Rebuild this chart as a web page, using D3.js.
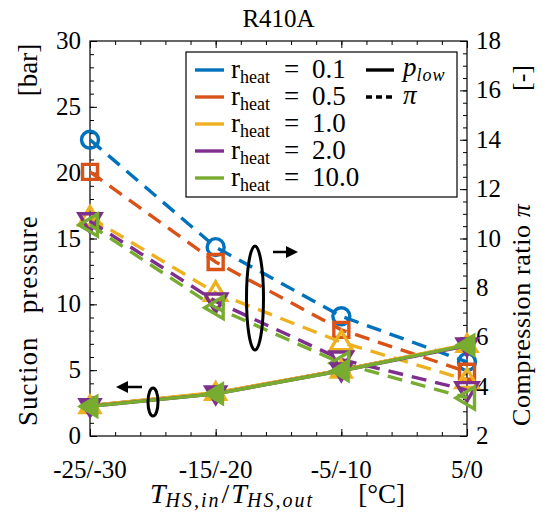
<!DOCTYPE html>
<html>
<head>
<meta charset="utf-8">
<script src="https://cdn.jsdelivr.net/npm/d3@7"></script>
<style>
body { margin: 0; background: #fff; }
</style>
</head>
<body>
<div id="chart"></div>
<script>
/* Data */

var categories = ["-25/-30", "-15/-20", "-5/-10", "5/0"];
var rheat = ["0.1", "0.5", "1.0", "2.0", "10.0"];
var colors = ["#0072BD", "#D95319", "#EDB120", "#7E2F8E", "#77AC30"];
var markers = ["circle", "square", "up", "down", "left"];

// suction pressure p_low [bar], left axis
var pLow01 = [2.3, 3.25, 5.0, 6.9];
var pLow05 = [2.3, 3.25, 5.0, 6.9];
var pLow10 = [2.3, 3.3, 5.0, 6.95];
var pLow20 = [2.25, 3.2, 4.95, 6.85];
var pLow100 = [2.25, 3.2, 4.95, 6.9];

// compression ratio pi [-], right axis
var pi01 = [14.0, 9.65, 6.85, 5.0];
var pi05 = [12.7, 9.05, 6.3, 4.6];
var pi10 = [10.85, 7.8, 5.8, 4.27];
var pi20 = [10.7, 7.45, 5.1, 3.86];
var pi100 = [10.55, 7.2, 4.95, 3.54];

var pLow = [pLow01, pLow05, pLow10, pLow20, pLow100];
var piVals = [pi01, pi05, pi10, pi20, pi100];
var showLowMarker = [false, false, true, true, true];

var leftTicks = [0, 5, 10, 15, 20, 25, 30];
var rightTicks = [2, 4, 6, 8, 10, 12, 14, 16, 18];

var width = 543,
    height = 515;
var mL = 90, mR = 467, mT = 41, mB = 436; // plot box edges
var FONT = "'Liberation Serif'";

var svg = d3.select("#chart").append("svg")
    .attr("width", width).attr("height", height);

function txt(g, size) { // text helper, serif everywhere
    return g.append("text").attr("font-family", FONT).attr("font-size", size).attr("fill", "#000");
}

var x = d3.scaleLinear().domain([0, 3]).range([mL, mR]);
var yL = d3.scaleLinear().domain([0, 30]).range([mB, mT]);
var yR = d3.scaleLinear().domain([2, 18]).range([mB, mT]);

/* ------- AXES ------- */
var axes = svg.append("g").attr("class", "axes");

function ticks(g, axis, tickVals, len) {
    g.call(axis.tickValues(tickVals).tickSize(len).tickFormat(""));
    g.select(".domain").remove();
    g.selectAll("line").attr("stroke", "#000").attr("stroke-width", 1);
}

// minor + major ticks, pointing inward
var xMinor = d3.range(0, 3.0001, 0.2);
axes.append("g").attr("transform", "translate(0," + mB + ")")
    .call(ticks, d3.axisTop(x), xMinor, 4);
axes.append("g").attr("transform", "translate(0," + mB + ")")
    .call(ticks, d3.axisTop(x), [0, 1, 2, 3], 7);
axes.append("g").attr("transform", "translate(0," + mT + ")")
    .call(ticks, d3.axisBottom(x), xMinor, 4);
axes.append("g").attr("transform", "translate(0," + mT + ")")
    .call(ticks, d3.axisBottom(x), [0, 1, 2, 3], 7);
axes.append("g").attr("transform", "translate(" + mL + ",0)")
    .call(ticks, d3.axisRight(yL), d3.range(0, 30.001, 1), 4);
axes.append("g").attr("transform", "translate(" + mL + ",0)")
    .call(ticks, d3.axisRight(yL), leftTicks, 7);
axes.append("g").attr("transform", "translate(" + mR + ",0)")
    .call(ticks, d3.axisLeft(yR), d3.range(2, 18.001, 0.5), 4);
axes.append("g").attr("transform", "translate(" + mR + ",0)")
    .call(ticks, d3.axisLeft(yR), rightTicks, 7);

axes.append("rect")
    .attr("x", mL).attr("y", mT)
    .attr("width", mR - mL).attr("height", mB - mT)
    .attr("fill", "none").attr("stroke", "#000").attr("stroke-width", 1.2);

// tick labels
leftTicks.forEach(function(d) {
    txt(axes, 25).attr("x", mL - 9).attr("y", yL(d) + 8)
        .attr("text-anchor", "end").text(d);
});
rightTicks.forEach(function(d) {
    txt(axes, 25).attr("x", mR + 9).attr("y", yR(d) + 8)
        .attr("text-anchor", "start").text(d);
});
categories.forEach(function(d, i) {
    txt(axes, 25).attr("x", x(i)).attr("y", mB + 42)
        .attr("text-anchor", "middle").text(d);
});

// title
txt(svg, 25).attr("x", (mL + mR) / 2).attr("y", 27)
    .attr("text-anchor", "middle").text("R410A");

// axis labels
txt(svg, 27).attr("transform", "translate(37,426) rotate(-90)")
    .attr("text-anchor", "start").attr("xml:space", "preserve")
    .attr("letter-spacing", 1)
    .text("Suction   pressure");
txt(svg, 27).attr("transform", "translate(37,70) rotate(-90)")
    .attr("text-anchor", "middle").text("[bar]");

var rl = txt(svg, 26).attr("transform", "translate(530,426) rotate(-90)")
    .attr("text-anchor", "start").attr("xml:space", "preserve")
    .attr("letter-spacing", 0.6);
rl.append("tspan").text("Compression ratio ");
rl.append("tspan").attr("font-style", "italic").text("π");
txt(svg, 26).attr("transform", "translate(530,78) rotate(-90)")
    .attr("text-anchor", "middle").text("[-]");

var xl = txt(svg, 28).attr("x", 150).attr("y", 503)
    .attr("text-anchor", "start").attr("xml:space", "preserve");
xl.append("tspan").attr("font-style", "italic").text("T");
xl.append("tspan").attr("font-style", "italic").attr("font-size", 20).attr("letter-spacing", 2).attr("dy", 4).text("HS,in");
xl.append("tspan").attr("dy", -4).attr("dx", 1).text("/");
xl.append("tspan").attr("font-style", "italic").attr("dx", 2).text("T");
xl.append("tspan").attr("font-style", "italic").attr("font-size", 20).attr("letter-spacing", 2).attr("dy", 4).text("HS,out");
txt(svg, 27).attr("x", 405).attr("y", 503).attr("text-anchor", "end").text("[°C]");

/* ------- MARKERS ------- */
function markerPath(type) {
    switch (type) {
        case "circle": return d3.symbol().type(d3.symbolCircle).size(Math.PI * 72)();
        case "square": return "M-7.5,-7.5L7.5,-7.5L7.5,7.5L-7.5,7.5Z";
        case "up": return "M0,-11L11,7.5L-11,7.5Z";
        case "down": return "M0,11L11,-7.5L-11,-7.5Z";
        case "left": return "M-11,0L7.5,-11L7.5,11Z";
    }
}

var plot = svg.append("g").attr("class", "plot");

var lineR = d3.line().x(function(d, i) { return x(i); }).y(function(d) { return yR(d); });
var lineL = d3.line().x(function(d, i) { return x(i); }).y(function(d) { return yL(d); });

// compression ratio (dashed, right axis)
piVals.forEach(function(vals, k) {
    plot.append("path").datum(vals)
        .attr("d", lineR).attr("fill", "none")
        .attr("stroke", colors[k]).attr("stroke-width", 3.4)
        .attr("stroke-dasharray", "15,9");
    plot.selectAll("path.mr" + k).data(vals).enter().append("path")
        .attr("d", markerPath(markers[k]))
        .attr("transform", function(d, i) { return "translate(" + x(i) + "," + yR(d) + ")"; })
        .attr("fill", "none").attr("stroke", colors[k]).attr("stroke-width", 3.4);
});

// suction pressure (solid, left axis)
pLow.forEach(function(vals, k) {
    plot.append("path").datum(vals)
        .attr("d", lineL).attr("fill", "none")
        .attr("stroke", colors[k]).attr("stroke-width", 3.4);
    if (showLowMarker[k]) {
        plot.selectAll("path.ml" + k).data(vals).enter().append("path")
            .attr("d", markerPath(markers[k]))
            .attr("transform", function(d, i) { return "translate(" + x(i) + "," + yL(d) + ")"; })
            .attr("fill", colors[k]).attr("stroke", colors[k]).attr("stroke-width", 2);
    }
});

/* ------- ANNOTATIONS ------- */
var ann = svg.append("g").attr("class", "annotations");
ann.append("ellipse").attr("cx", 255).attr("cy", 298).attr("rx", 8.5).attr("ry", 52)
    .attr("fill", "none").attr("stroke", "#000").attr("stroke-width", 3);
ann.append("line").attr("x1", 273).attr("y1", 252).attr("x2", 288).attr("y2", 252)
    .attr("stroke", "#000").attr("stroke-width", 2.5);
ann.append("path").attr("d", "M298,252L286,246L286,258Z").attr("fill", "#000");
ann.append("ellipse").attr("cx", 153).attr("cy", 402).attr("rx", 5).attr("ry", 14)
    .attr("fill", "none").attr("stroke", "#000").attr("stroke-width", 3);
ann.append("line").attr("x1", 142).attr("y1", 387).attr("x2", 126).attr("y2", 387)
    .attr("stroke", "#000").attr("stroke-width", 2.5);
ann.append("path").attr("d", "M116,387L128,381L128,393Z").attr("fill", "#000");

/* ------- LEGEND ------- */
var legend = svg.append("g").attr("class", "legend");
legend.append("rect").attr("x", 186).attr("y", 52).attr("width", 271).attr("height", 145)
    .attr("fill", "#fff").attr("stroke", "#000").attr("stroke-width", 1.2);

rheat.forEach(function(r, k) {
    var yy = 70 + k * 27;
    legend.append("line").attr("x1", 195).attr("x2", 224).attr("y1", yy).attr("y2", yy)
        .attr("stroke", colors[k]).attr("stroke-width", 3.4);
    var t = txt(legend, 27).attr("x", 231).attr("y", yy + 8);
    t.append("tspan").text("r");
    t.append("tspan").attr("font-size", 18).attr("dy", 5).text("heat");
    t.append("tspan").attr("x", 284).attr("dy", -5).text("=");
    t.append("tspan").attr("x", 312).text(r);
});

legend.append("line").attr("x1", 366).attr("x2", 394).attr("y1", 70).attr("y2", 70)
    .attr("stroke", "#000").attr("stroke-width", 3.4);
var pl = txt(legend, 27).attr("x", 403).attr("y", 76).attr("font-style", "italic");
pl.append("tspan").text("p");
pl.append("tspan").attr("font-size", 18).attr("letter-spacing", 1).attr("dy", 5).text("low");
legend.append("line").attr("x1", 366).attr("x2", 394).attr("y1", 97).attr("y2", 97)
    .attr("stroke", "#000").attr("stroke-width", 3.4).attr("stroke-dasharray", "6,4");
txt(legend, 27).attr("x", 403).attr("y", 104).attr("font-style", "italic").text("π");
</script>
</body>
</html>
